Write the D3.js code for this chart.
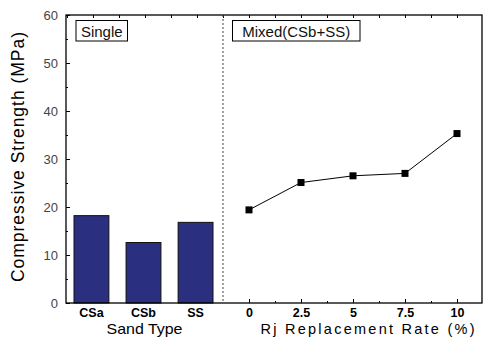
<!DOCTYPE html>
<html>
<head>
<meta charset="utf-8">
<script src="https://cdn.jsdelivr.net/npm/d3@7"></script>
<style>
  body { margin: 0; background: #fff; }
  text { font-family: "Liberation Sans", Arial, sans-serif; }
</style>
</head>
<body>
<div id="chart"></div>
<script>
// data
var sandTypes = ["CSa", "CSb", "SS"];
var sandStrength = [18.2, 12.6, 16.8];
var rjRates = [0, 2.5, 5, 7.5, 10];
var mixedStrength = [19.4, 25.1, 26.5, 27.0, 35.3];
var yTicks = [0, 10, 20, 30, 40, 50, 60];
var rateTicks = [0, 2.5, 5, 7.5, 10];

// set the dimensions and margins of the graph
var margin = {top: 15, right: 2, bottom: 35, left: 66},
    width = 484 - margin.left - margin.right,
    height = 338 - margin.top - margin.bottom;

var svg = d3.select("#chart")
  .append("svg")
    .attr("width", width + margin.left + margin.right)
    .attr("height", height + margin.top + margin.bottom)
  .append("g")
    .attr("transform", "translate(" + margin.left + "," + margin.top + ")");

var divider = 157; // x of the dashed line inside the plot

// Y scale
var y = d3.scaleLinear().domain([0, 60]).range([height, 0]);

// left panel: band scale for sand types
var xBand = d3.scaleBand()
    .domain(sandTypes)
    .range([8, 147])
    .paddingInner(0.33)
    .paddingOuter(0);

// right panel: linear scale for replacement rate
var xRate = d3.scaleLinear().domain([0, 10]).range([183, 391]);

// bars
svg.append("g")
  .selectAll("rect")
  .data(sandStrength)
  .enter()
  .append("rect")
    .attr("x", function(d, i) { return xBand(sandTypes[i]); })
    .attr("y", function(d) { return y(d); })
    .attr("width", xBand.bandwidth())
    .attr("height", function(d) { return height - y(d); })
    .attr("fill", "#2b2f80")
    .attr("stroke", "#111")
    .attr("stroke-width", 1);

// line + square markers
var pts = rjRates.map(function(r, i) { return [r, mixedStrength[i]]; });
svg.append("path")
    .datum(pts)
    .attr("fill", "none")
    .attr("stroke", "#000")
    .attr("stroke-width", 1)
    .attr("d", d3.line()
        .x(function(d) { return xRate(d[0]); })
        .y(function(d) { return y(d[1]); }));

svg.append("g")
  .selectAll("rect")
  .data(pts)
  .enter()
  .append("rect")
    .attr("x", function(d) { return xRate(d[0]) - 3.5; })
    .attr("y", function(d) { return y(d[1]) - 3.5; })
    .attr("width", 7)
    .attr("height", 7)
    .attr("fill", "#000");

// Left Y axis with inward ticks
var yAxis = svg.append("g")
    .call(d3.axisLeft(y).tickValues(yTicks).tickSize(-4).tickPadding(8));
yAxis.select(".domain").remove();
yAxis.selectAll("text")
    .attr("font-size", 13)
    .attr("fill", "#444")
    .attr("font-family", "Liberation Sans, Arial, sans-serif");

// minor y ticks
svg.append("g")
    .call(d3.axisLeft(y).tickValues([5, 15, 25, 35, 45, 55]).tickSize(-2).tickFormat(""))
    .select(".domain").remove();

// top minor ticks over whole width
var topTicks = d3.range(-7, 9).map(function(k) { return k * 1.25; });
svg.append("g")
    .call(d3.axisTop(xRate).tickValues(topTicks).tickSize(-3).tickFormat(""))
    .select(".domain").remove();

// bottom ticks on the right panel
var bottomAxis = svg.append("g")
    .attr("transform", "translate(0," + height + ")")
    .call(d3.axisBottom(xRate).tickValues(rateTicks).tickSize(-4).tickPadding(5)
        .tickFormat(function(d) { return d; }));
bottomAxis.select(".domain").remove();
bottomAxis.selectAll("text")
    .attr("font-size", 12.5)
    .attr("font-weight", "bold")
    .attr("fill", "#000")
    .attr("font-family", "Liberation Sans, Arial, sans-serif");

svg.append("g")
    .attr("transform", "translate(0," + height + ")")
    .call(d3.axisBottom(xRate).tickValues([1.25, 3.75, 6.25, 8.75]).tickSize(-2).tickFormat(""))
    .select(".domain").remove();

// sand type labels
var bandAxis = svg.append("g")
    .attr("transform", "translate(0," + height + ")")
    .call(d3.axisBottom(xBand).tickSize(0).tickPadding(5));
bandAxis.select(".domain").remove();
bandAxis.selectAll("text")
    .attr("font-size", 12.5)
    .attr("font-weight", "bold")
    .attr("fill", "#000")
    .attr("font-family", "Liberation Sans, Arial, sans-serif");

// frame
svg.append("rect")
    .attr("x", 0).attr("y", 0)
    .attr("width", width).attr("height", height)
    .attr("fill", "none")
    .attr("stroke", "#000")
    .attr("stroke-width", 1.3);

// dashed divider
svg.append("line")
    .attr("x1", divider).attr("x2", divider)
    .attr("y1", 0).attr("y2", height)
    .attr("stroke", "#444")
    .attr("stroke-width", 1)
    .attr("stroke-dasharray", "2,2");

// panel label boxes
function panelLabel(x0, w, label) {
  svg.append("rect")
      .attr("x", x0).attr("y", 5.5)
      .attr("width", w).attr("height", 20.5)
      .attr("fill", "#fff")
      .attr("stroke", "#000")
      .attr("stroke-width", 1);
  svg.append("text")
      .attr("x", x0 + w / 2)
      .attr("y", 21.5)
      .attr("text-anchor", "middle")
      .attr("font-family", "DejaVu Sans, sans-serif")
      .attr("font-size", 15)
      .attr("fill", "#111")
      .text(label);
}
panelLabel(10, 51.5, "Single");
panelLabel(166.5, 127.5, "Mixed(CSb+SS)");

// X axis labels
svg.append("text")
    .attr("text-anchor", "middle")
    .attr("x", 78.5)
    .attr("y", height + 31)
    .attr("font-family", "DejaVu Sans, sans-serif")
    .attr("font-size", 14.5)
    .attr("fill", "#000")
    .attr("textLength", 76)
    .attr("lengthAdjust", "spacingAndGlyphs")
    .text("Sand Type");

svg.append("text")
    .attr("text-anchor", "middle")
    .attr("x", 301.5)
    .attr("y", height + 31)
    .attr("font-family", "DejaVu Sans, sans-serif")
    .attr("font-size", 14.5)
    .attr("fill", "#000")
    .attr("textLength", 214)
    .attr("lengthAdjust", "spacing")
    .text("Rj Replacement Rate (%)");

// Y axis label
svg.append("text")
    .attr("text-anchor", "middle")
    .attr("transform", "rotate(-90)")
    .attr("x", -142)
    .attr("y", -42)
    .attr("font-size", 17.5)
    .attr("fill", "#000")
    .attr("textLength", 250)
    .attr("lengthAdjust", "spacing")
    .text("Compressive Strength (MPa)");
</script>
</body>
</html>
